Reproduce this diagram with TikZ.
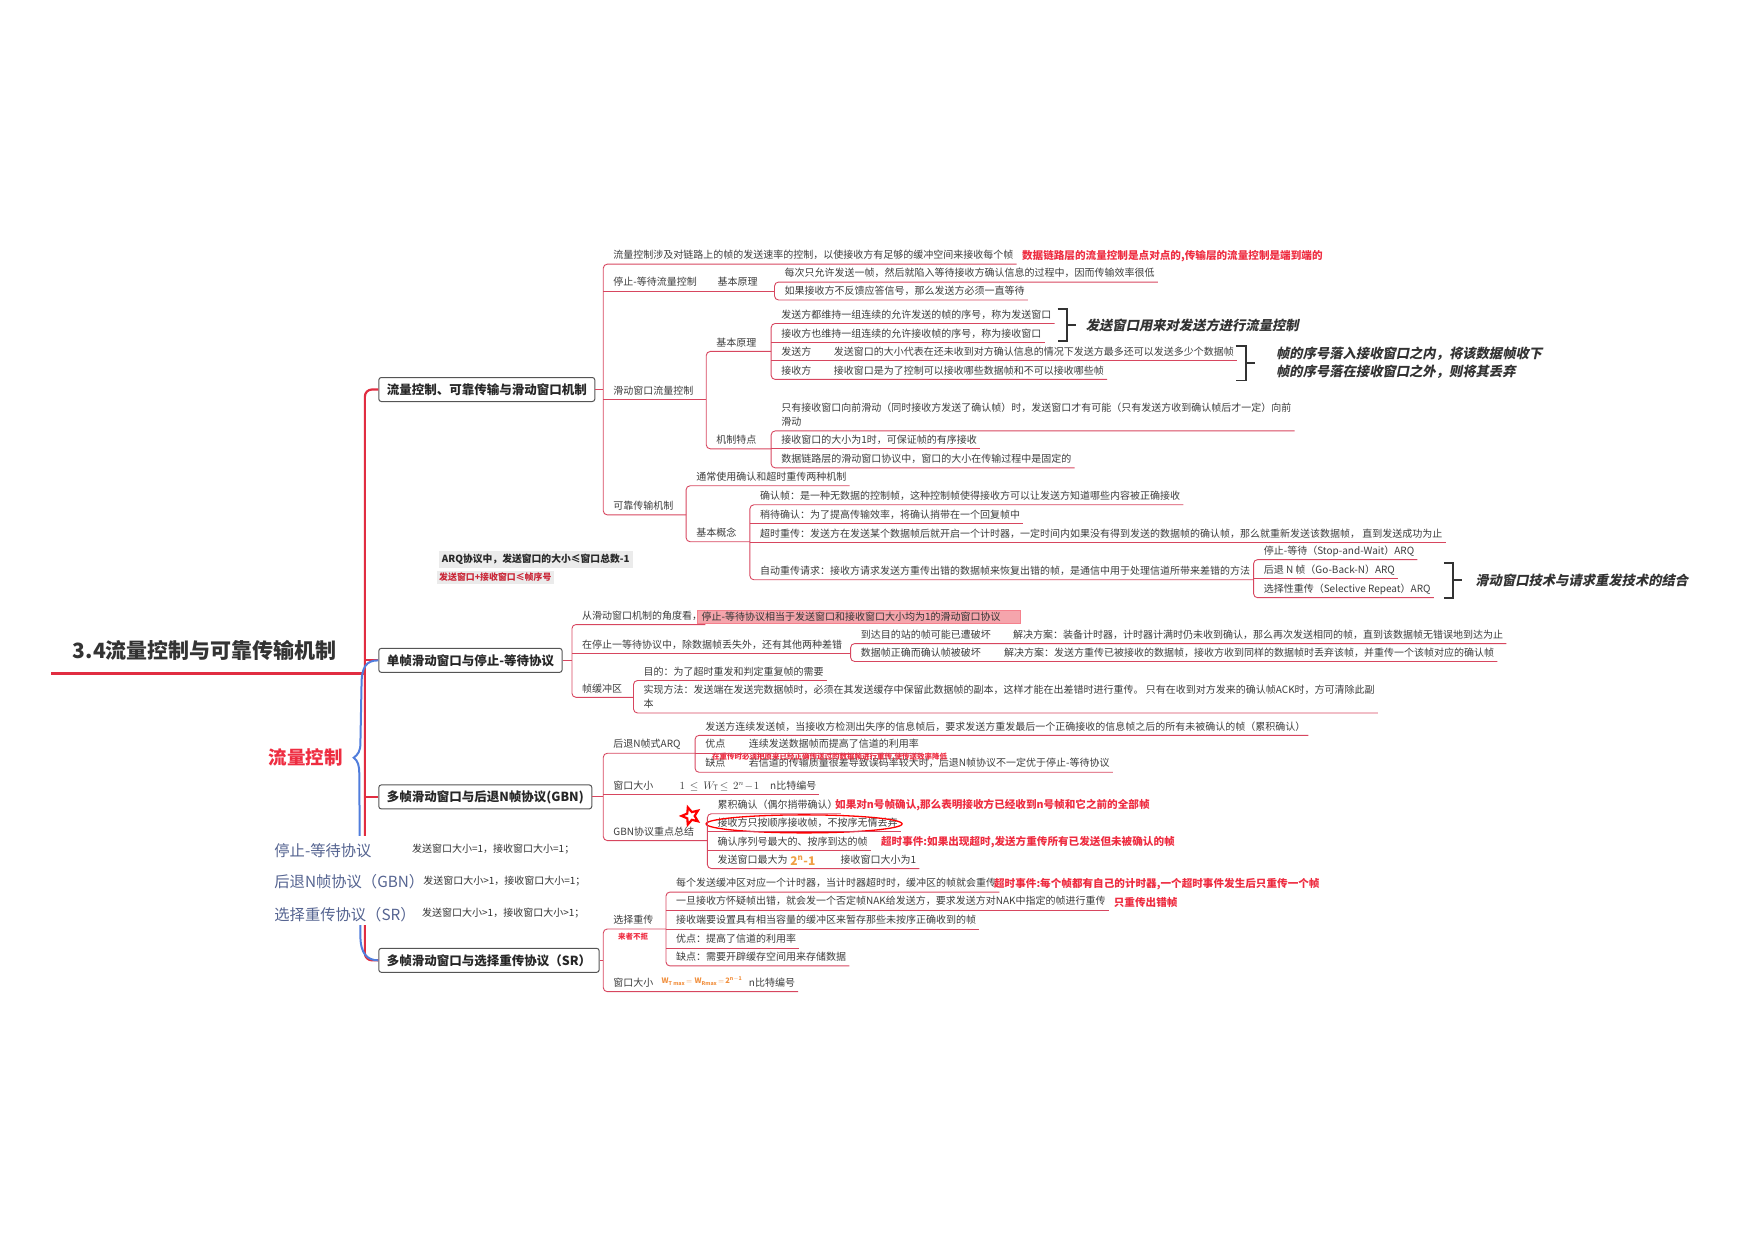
\documentclass[tikz,border=0pt]{standalone}
\usepackage{fontspec}
\setmainfont{Noto Sans CJK SC}
\newfontfamily\slfont[FakeSlant=0.2]{Noto Sans CJK SC}
\usetikzlibrary{shapes.geometric}
\definecolor{txtc}{RGB}{60,60,60}
\definecolor{ulc}{RGB}{215,70,95}
\definecolor{spinec}{RGB}{225,45,65}
\definecolor{rednc}{RGB}{238,45,65}
\definecolor{boxc}{RGB}{85,85,85}
\definecolor{bluec}{RGB}{80,125,220}
\definecolor{listc}{RGB}{85,100,145}
\definecolor{orc}{RGB}{240,160,70}
\definecolor{pinkc}{RGB}{245,165,172}
\newcommand\fs{\fontsize{10pt}{12pt}\selectfont}
\newcommand\lf[4]{\node[lf] (#1) at (#2,#3) {\hspace*{10pt}#4\hspace*{3pt}\strut};}
\begin{document}
\begin{tikzpicture}[x=1.1193pt,y=-1.1193pt,
  lf/.style={anchor=south west, inner xsep=0pt, inner ysep=1.5pt, font=\fs, text=txtc},
  ul/.style={draw=ulc, line width=0.9pt},
  brc/.style={ul, rounded corners=4pt},
  box/.style={anchor=west, draw=boxc, line width=1pt, rounded corners=2.5pt, fill=white, inner xsep=8pt, minimum height=24pt, text=black!85, font=\bfseries\fontsize{12.5pt}{14pt}\selectfont},
  spine/.style={draw=spinec, line width=2.2pt},
  rnote/.style={anchor=base west, inner sep=0pt, font=\bfseries\fontsize{10.6pt}{12pt}\selectfont, text=rednc},
  brk/.style={draw=black!80, line width=1.8pt},
  bnote/.style={anchor=base west, inner sep=0pt, font=\slfont\bfseries\fontsize{13.3pt}{15pt}\selectfont, text=black!80},
  listt/.style={anchor=base west, inner sep=0pt, font=\fontsize{15.3pt}{17pt}\selectfont, text=listc},
  lists/.style={anchor=base west, inner sep=0pt, font=\fontsize{10pt}{12pt}\selectfont, text=black!80}]
\useasboundingbox (0,0) rectangle (1568,1108);

% ---------- title and main boxes ----------
\node[anchor=base west, inner sep=0pt, font=\bfseries\fontsize{21pt}{24pt}\selectfont, text=black!80] (title) at (65,588) {3.4流量控制与可靠传输机制};
\node[box] (B1) at (338,348) {流量控制、可靠传输与滑动窗口机制};
\node[box] (B2) at (338,590) {单帧滑动窗口与停止-等待协议};
\node[box] (B3) at (338,712) {多帧滑动窗口与后退N帧协议(GBN)};
\node[box] (B4) at (338,858) {多帧滑动窗口与选择重传协议（SR）};

\coordinate (spt) at (326,348);
\coordinate (spb) at (326,858);
\coordinate (tl) at (46,602);
\draw[spine, rounded corners=7pt] (B1.west) -- (spt) -- (spb) -- (B4.west);
\draw[spine] (B2.west) -- (B2.west -| spb);
\draw[spine] (B3.west) -- (B3.west -| spb);
\draw[spine, line width=2.8pt] (tl) -- (tl -| spb);

% blue brace
\draw[draw=bluec, line width=2pt] (B2.west) .. controls (327,590) and (323,596) .. (323,612) -- (322,664) .. controls (322,671) and (320,674) .. (316,677) .. controls (320,680) and (321,684) .. (321,692) -- (322,836) .. controls (322,852) and (328,858) .. (B4.west);
\node[anchor=base west, inner sep=0pt, font=\bfseries\fontsize{18.5pt}{20pt}\selectfont, text=rednc] (flk) at (240,683) {流量控制};

% left list
\fill[white] (240,747) rectangle (530,826);
\node[listt] (l1) at (245,765) {停止-等待协议};
\node[listt] (l2) at (245,793) {后退N帧协议（GBN）};
\node[listt] (l3) at (245,822) {选择重传协议（SR）};
\node[lists] (l1s) at (368,762) {发送窗口大小=1，接收窗口大小=1；};
\node[lists] (l2s) at (378,790) {发送窗口大小>1，接收窗口大小=1；};
\node[lists] (l3s) at (377,819) {发送窗口大小>1，接收窗口大小>1；};

% ARQ note
\node[anchor=west, fill=black!8, inner sep=3pt, font=\bfseries\fontsize{9.8pt}{11pt}\selectfont, text=black!85] (n1) at (392,500) {ARQ协议中，发送窗口的大小≤窗口总数-1};
\node[anchor=west, fill=black!8, inner sep=2.5pt, font=\bfseries\fontsize{8.9pt}{10pt}\selectfont, text=rednc!85!black] (n2) at (390,516) {发送窗口+接收窗口≤帧序号};

% ---------- B1 subtree ----------
\lf{a1}{539}{236}{流量控制涉及对链路上的帧的发送速率的控制，以使接收方有足够的缓冲空间来接收每个帧}
\node[rnote] (a1r) at (913,231.5) {数据链路层的流量控制是点对点的,传输层的流量控制是端到端的};
\lf{a2}{539}{260}{停止-等待流量控制}
\lf{a2b}{632}{260}{基本原理}
\lf{a2c1}{692}{252}{每次只允许发送一帧，然后就陷入等待接收方确认信息的过程中，因而传输效率很低}
\lf{a2c2}{692}{268}{如果接收方不反馈应答信号，那么发送方必须一直等待}
\lf{a3}{539}{357}{滑动窗口流量控制}
\lf{a3a}{631}{314}{基本原理}
\lf{a3a1}{689}{289}{发送方都维持一组连续的允许发送的帧的序号，称为发送窗口}
\lf{a3a2}{689}{306}{接收方也维持一组连续的允许接收帧的序号，称为接收窗口}
\lf{a3a3}{689}{322}{发送方}
\lf{a3a3t}{736}{322}{发送窗口的大小代表在还未收到对方确认信息的情况下发送方最多还可以发送多少个数据帧}
\lf{a3a4}{689}{339}{接收方}
\lf{a3a4t}{736}{339}{接收窗口是为了控制可以接收哪些数据帧和不可以接收哪些帧}
\lf{a3b}{631}{401}{机制特点}
\node[lf, align=left, font=\fontsize{10pt}{13.4pt}\selectfont] (a3b1) at (689,385) {\hspace*{10pt}只有接收窗口向前滑动（同时接收方发送了确认帧）时，发送窗口才有可能（只有发送方收到确认帧后才一定）向前\hspace*{3pt}\\\hspace*{10pt}滑动\strut};
\lf{a3b2}{689}{401}{接收窗口的大小为1时，可保证帧的有序接收}
\lf{a3b3}{689}{418}{数据链路层的滑动窗口协议中，窗口的大小在传输过程中是固定的}
\lf{a4}{539}{460}{可靠传输机制}
\lf{a4a}{613}{434}{通常使用确认和超时重传两种机制}
\lf{a4b}{613}{484}{基本概念}
\lf{a4b1}{670}{451}{确认帧：是一种无数据的控制帧，这种控制帧使得接收方可以让发送方知道哪些内容被正确接收}
\lf{a4b2}{670}{468}{稍待确认：为了提高传输效率，将确认捎带在一个回复帧中}
\lf{a4b3}{670}{485}{超时重传：发送方在发送某个数据帧后就开启一个计时器，一定时间内如果没有得到发送的数据帧的确认帧，那么就重新发送该数据帧， 直到发送成功为止}
\lf{a4b4}{670}{518}{自动重传请求：接收方请求发送方重传出错的数据帧来恢复出错的帧，是通信中用于处理信道所带来差错的方法}
\lf{a4b4a}{1120}{500}{停止-等待（Stop-and-Wait）ARQ}
\lf{a4b4b}{1120}{517}{后退 N 帧（Go-Back-N）ARQ}
\lf{a4b4c}{1120}{534}{选择性重传（Selective Repeat）ARQ}

\draw[ul] (B1.east) -- (B1.east -| a1.south west);
\draw[brc] (a1.south east) -- (a1.south west) -- (a4.south west) -- (a4.south west -| a4a.south west);
\draw[ul] (a2.south west) -- (a2.south west -| a2c1.south west);
\draw[ul] (a3.south west) -- (a3.south west -| a3a.south west);
\draw[brc] (a2c1.south east) -- (a2c1.south west) -- (a2c2.south west) -- (a2c2.south east);
\draw[brc] (a3a.south west -| a3a1.south west) -- (a3a.south west) -- (a3b.south west) -- (a3b.south west -| a3b1.south west);
\draw[brc] (a3a1.south east) -- (a3a1.south west) -- (a3a4.south west) -- (a3a4t.south east);
\draw[ul] (a3a2.south west) -- (a3a2.south east);
\draw[ul] (a3a3.south west) -- (a3a3t.south east);
\draw[brc] (a3b1.south east) -- (a3b1.south west) -- (a3b3.south west) -- (a3b3.south east);
\draw[ul] (a3b2.south west) -- (a3b2.south east);
\draw[brc] (a4a.south east) -- (a4a.south west) -- (a4b.south west) -- (a4b.south west -| a4b1.south west);
\draw[brc] (a4b1.south east) -- (a4b1.south west) -- (a4b4.south west) -- (a4b4.south west -| a4b4a.south west);
\draw[ul] (a4b2.south west) -- (a4b2.south east);
\draw[ul] (a4b3.south west) -- (a4b3.south east);
\draw[brc] (a4b4a.south east) -- (a4b4a.south west) -- (a4b4c.south west) -- (a4b4c.south east);
\draw[ul] (a4b4b.south west) -- (a4b4b.south east);

% brackets and notes
\draw[brk] (945,276) -- (953,276) -- (953,305) -- (945,305);
\draw[brk] (953,290.5) -- (961,290.5);
\node[bnote] (bn1) at (970,295) {发送窗口用来对发送方进行流量控制};
\draw[brk] (1104,309) -- (1113,309) -- (1113,340) -- (1104,340);
\draw[brk] (1113,324.5) -- (1121,324.5);
\node[bnote] (bn2) at (1140,320) {帧的序号落入接收窗口之内，将该数据帧收下};
\node[bnote] (bn3) at (1140,336) {帧的序号落在接收窗口之外，则将其丢弃};
\draw[brk] (1290,503) -- (1298,503) -- (1298,534) -- (1290,534);
\draw[brk] (1298,518.5) -- (1306,518.5);
\node[bnote] (bn4) at (1318,523) {滑动窗口技术与请求重发技术的结合};

% ---------- B2 subtree ----------
\lf{b1}{511}{558}{从滑动窗口机制的角度看，}
\node[anchor=west, fill=pinkc, draw=rednc!60, line width=0.6pt, inner xsep=4pt, inner ysep=2pt, font=\fs, text=black!80] (pk) at (623,551) {停止-等待协议相当于发送窗口和接收窗口大小均为1的滑动窗口协议\hspace*{16pt}};
\lf{b2}{511}{584}{在停止一等待协议中，除数据帧丢失外，还有其他两种差错}
\lf{b2a}{760}{575}{到达目的站的帧可能已遭破坏}
\lf{b2at}{896}{575}{解决方案：装备计时器，计时器计满时仍未收到确认，那么再次发送相同的帧，直到该数据帧无错误地到达为止}
\lf{b2b}{760}{591}{数据帧正确而确认帧被破坏}
\lf{b2bt}{888}{591}{解决方案：发送方重传已被接收的数据帧，接收方收到同样的数据帧时丢弃该帧，并重传一个该帧对应的确认帧}
\lf{b3}{511}{623}{帧缓冲区}
\lf{b3a}{566}{608}{目的：为了超时重发和判定重复帧的需要}
\node[lf, align=left, font=\fontsize{10pt}{13.4pt}\selectfont] (b3b) at (566,637) {\hspace*{10pt}实现方法：发送端在发送完数据帧时，必须在其发送缓存中保留此数据帧的副本，这样才能在出差错时进行重传。 只有在收到对方发来的确认帧ACK时，方可清除此副\hspace*{3pt}\\\hspace*{10pt}本\strut};

\draw[ul] (B2.east) -- (B2.east -| b1.south west);
\draw[brc] (b1.south east) -- (b1.south west) -- (b3.south west) -- (b3.south west -| b3a.south west);
\draw[ul] (b2.south west) -- (b2.south west -| b2a.south west);
\draw[brc] (b2at.south east) -- (b2a.south west) -- (b2b.south west) -- (b2bt.south east);
\draw[brc] (b3a.south east) -- (b3a.south west) -- (b3b.south west) -- (b3b.south east);

% ---------- B3 subtree ----------
\lf{c1}{539}{673}{后退N帧式ARQ}
\lf{c1a}{621}{657}{发送方连续发送帧，当接收方检测出失序的信息帧后，要求发送方重发最后一个正确接收的信息帧之后的所有未被确认的帧（累积确认）}
\lf{c1b}{621}{673}{优点}
\lf{c1bt}{660}{673}{连续发送数据帧而提高了信道的利用率}
\lf{c1c}{621}{690}{缺点}
\lf{c1ct}{660}{690}{若信道的传输质量很差导致误码率较大时，后退N帧协议不一定优于停止-等待协议}
\node[anchor=base west, inner sep=0pt, font=\bfseries\fontsize{7.5pt}{9pt}\selectfont, text=rednc] (c1r) at (636,678.5) {在重传时必须把原来已经正确传送过的数据帧进行重传,使传送效率降低};
\lf{c2}{539}{710}{窗口大小}
\node[anchor=base west, inner sep=0pt, font=\fontsize{10.5pt}{12pt}\selectfont, text=txtc] (c2f) at (607,705) {$1\,\le\, W_{\mathrm{T}}\!\le\, 2^{n}\!-\!1$};
\lf{c2n}{679}{710}{n比特编号}
\lf{c3}{539}{751}{GBN协议重点总结}
\lf{c3a}{632}{727}{累积确认（偶尔捎带确认）}
\node[rnote] (c3ar) at (746,722.5) {如果对n号帧确认,那么表明接收方已经收到n号帧和它之前的全部帧};
\lf{c3b}{632}{743}{接收方只按顺序接收帧，不按序无情丢弃}
\lf{c3c}{632}{760}{确认序列号最大的、按序到达的帧}
\node[rnote] (c3cr) at (787,755.5) {超时事件:如果出现超时,发送方重传所有已发送但未被确认的帧};
\lf{c3d}{632}{776}{发送窗口最大为}
\node[anchor=base west, inner sep=0pt, font=\bfseries\fontsize{12pt}{13pt}\selectfont, text=orc] (c3do) at (706,773) {2$^{\mathbf{n}}$-1};
\lf{c3de}{742}{776}{接收窗口大小为1}
\draw[draw=red, line width=1.3pt] (c3b.center) ellipse (98pt and 9pt);
\node[star, star points=5, star point ratio=2.2, draw=red, line width=2.2pt, minimum size=18pt, rotate=18, inner sep=0pt] (stc) at (617,729) {};

\draw[ul] (B3.east) -- (B3.east -| c1.south west);
\draw[brc] (c1.south west -| c1a.south west) -- (c1.south west) -- (c3.south west) -- (c3.south west -| c3a.south west);
\draw[ul] (c2.south west) -- (c2n.south east);
\draw[brc] (c1a.south east) -- (c1a.south west) -- (c1c.south west) -- (c1ct.south east);
\draw[ul] (c1b.south west) -- (c1bt.south east);
\draw[brc] (c3a.south east) -- (c3a.south west) -- (c3d.south west) -- (c3de.south east);
\draw[ul] (c3b.south west) -- (c3b.south east);
\draw[ul] (c3c.south west) -- (c3c.south east);

% ---------- B4 subtree ----------
\lf{d1}{539}{830}{选择重传}
\node[anchor=base west, inner sep=0pt, font=\bfseries\fontsize{7.5pt}{9pt}\selectfont, text=rednc] (d1r) at (552,839) {来者不拒};
\lf{d1a}{595}{797}{每个发送缓冲区对应一个计时器，当计时器超时时，缓冲区的帧就会重传}
\node[rnote] (d1ar) at (888,792.5) {超时事件:每个帧都有自己的计时器,一个超时事件发生后只重传一个帧};
\lf{d1b}{595}{813}{一旦接收方怀疑帧出错，就会发一个否定帧NAK给发送方，要求发送方对NAK中指定的帧进行重传}
\node[rnote] (d1br) at (995,809.5) {只重传出错帧};
\lf{d1c}{595}{830}{接收端要设置具有相当容量的缓冲区来暂存那些未按序正确收到的帧}
\lf{d1d}{595}{847}{优点：提高了信道的利用率}
\lf{d1e}{595}{863}{缺点：需要开辟缓存空间用来存储数据}
\lf{d2}{539}{886}{窗口大小}
\node[anchor=base west, inner sep=0pt, font=\bfseries\fontsize{7.5pt}{8pt}\selectfont, text=orc!90!red] (d2f) at (591,879) {$\mathbf{W_{T\,max}\!=W_{Rmax}\!=\!2^{n-1}}$};
\lf{d2n}{660}{886}{n比特编号}

\draw[ul] (B4.east) -- (B4.east -| d1.south west);
\draw[brc] (d1.south west -| d1a.south west) -- (d1.south west) -- (d2.south west) -- (d2n.south east);
\draw[brc] (d1a.south east) -- (d1a.south west) -- (d1e.south west) -- (d1e.south east);
\draw[ul] (d1b.south west) -- (d1b.south east);
\draw[ul] (d1c.south west) -- (d1c.south east);
\draw[ul] (d1d.south west) -- (d1d.south east);
\end{tikzpicture}
\end{document}
